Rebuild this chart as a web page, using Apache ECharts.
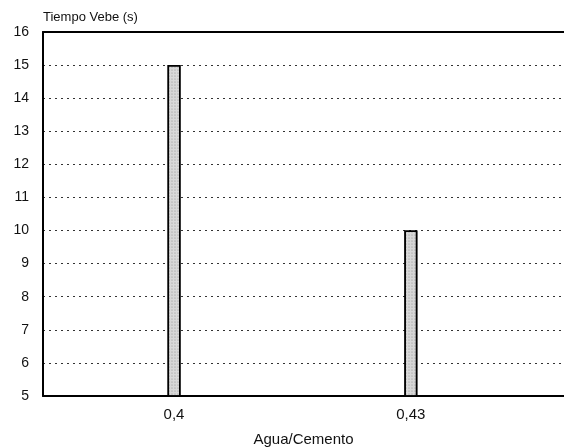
<!DOCTYPE html>
<html><head><meta charset="utf-8">
<script src="https://cdn.jsdelivr.net/npm/echarts@6/dist/echarts.min.js"></script>
<style>html,body{margin:0;padding:0;background:#fff}#c{width:564px;height:448px}</style>
</head><body><div id="c"></div>
<script>
const xValues = [0.4, 0.43];
const xLabels = ['0,4', '0,43'];
const vebeTimes = [15, 10];
const yTicks = [5, 6, 7, 8, 9, 10, 11, 12, 13, 14, 15, 16];

const chart = echarts.init(document.getElementById('c'));
const font = 'Liberation Sans, Arial, sans-serif';
chart.setOption({
  animation: false,
  grid: { left: 43, right: 0, top: 32, bottom: 52, containLabel: false, outerBoundsMode: 'none' },
  xAxis: [{
    type: 'value', min: 0.3834, max: 0.4494,
    axisLine: { show: true, lineStyle: { color: '#000', width: 2 } },
    axisTick: { show: false },
    splitLine: { show: false },
    axisLabel: {
      customValues: xValues,
      formatter: v => xLabels[xValues.findIndex(x => Math.abs(x - v) < 1e-6)] || '',
      color: '#111', fontSize: 15, fontFamily: font, margin: 11
    },
    name: 'Agua/Cemento', nameLocation: 'middle', nameGap: 36,
    nameTextStyle: { color: '#111', fontSize: 15, fontFamily: font }
  }, {
    type: 'value', position: 'top', min: 0.3834, max: 0.4494,
    axisLine: { show: true, lineStyle: { color: '#000', width: 2 } },
    axisTick: { show: false }, axisLabel: { show: false }, splitLine: { show: false }
  }],
  yAxis: {
    type: 'value', min: yTicks[0], max: yTicks[yTicks.length - 1], interval: 1,
    axisLine: { show: true, lineStyle: { color: '#000', width: 2 } },
    axisTick: { show: false },
    axisLabel: { color: '#111', fontSize: 14, fontFamily: font, margin: 14 },
    splitLine: { show: true, lineStyle: { color: '#333', type: [2, 4], width: 1 } },
    name: 'Tiempo Vebe (s)', nameLocation: 'end', nameGap: 8,
    nameTextStyle: { color: '#111', fontSize: 13, fontFamily: font, align: 'left', padding: [0, 0, 0, 0] }
  },
  series: [{
    type: 'bar', xAxisIndex: 0,
    data: xValues.map((x, i) => [x, vebeTimes[i]]),
    barWidth: 13,
    itemStyle: {
      color: '#d8d8d8', borderColor: '#000', borderWidth: 1.5,
      decal: { symbol: 'circle', symbolSize: 0.6, dashArrayX: [2, 1], dashArrayY: [2, 1], color: 'rgba(0,0,0,0.35)' }
    }
  }]
});
</script></body></html>
